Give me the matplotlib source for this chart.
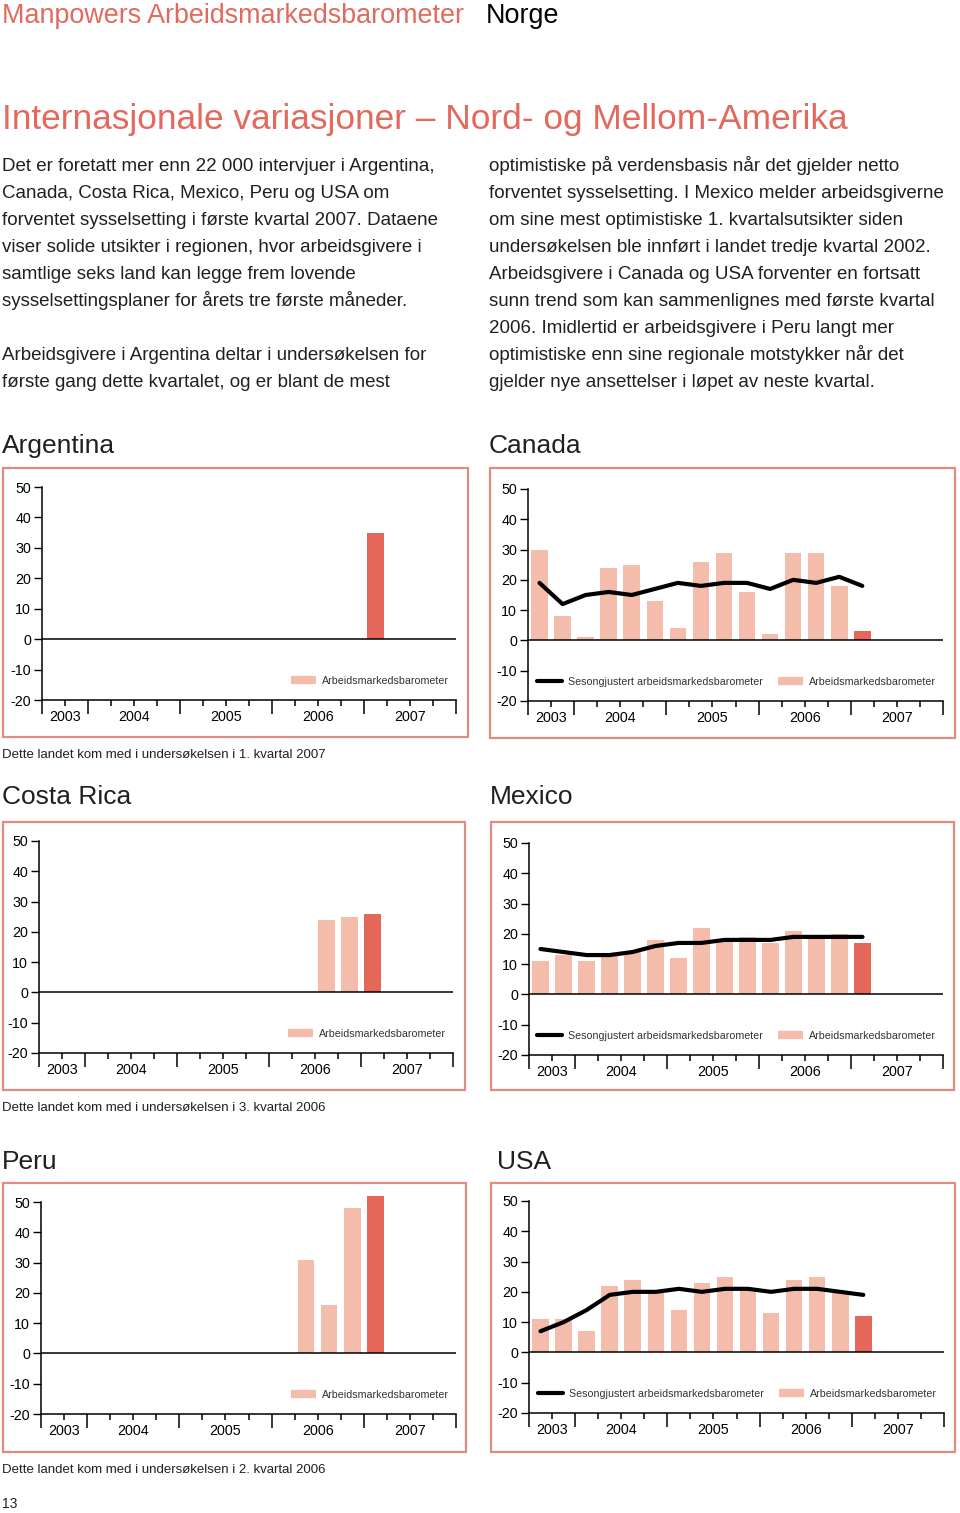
import numpy as np
import matplotlib.pyplot as plt
from matplotlib.patches import Rectangle
from matplotlib.lines import Line2D

plt.rcParams['font.family'] = ['Liberation Sans', 'DejaVu Sans']
plt.rcParams['axes.unicode_minus'] = False

W, H = 960, 1513
RED = '#e2695c'
LIGHT = '#f4bcab'
DARK = '#e4675a'
BOX = '#e48b80'
TXT = '#231f20'

# akse: 3. kv 2003 .. 4. kv 2007, data 3. kv 2003 .. 1. kv 2007
years = ['2003', '2004', '2005', '2006', '2007']
year_slots = [2, 4, 4, 4, 4]
n_obs = 15

argentina_bars = [np.nan] * 14 + [35]
costa_rica_bars = [np.nan] * 12 + [24, 25, 26]
peru_bars = [np.nan] * 11 + [31, 16, 48, 52]
canada_bars = [30, 8, 1, 24, 25, 13, 4, 26, 29, 16, 2, 29, 29, 18, 3]
canada_line = [19, 12, 15, 16, 15, 17, 19, 18, 19, 19, 17, 20, 19, 21, 18]
mexico_bars = [11, 13, 11, 13, 14, 18, 12, 22, 18, 19, 17, 21, 19, 20, 17]
mexico_line = [15, 14, 13, 13, 14, 16, 17, 17, 18, 18, 18, 19, 19, 19, 19]
usa_bars = [11, 11, 7, 22, 24, 20, 14, 23, 25, 21, 13, 24, 25, 20, 12]
usa_line = [7, 10, 14, 19, 20, 20, 21, 20, 21, 21, 20, 21, 21, 20, 19]

lbl_line = 'Sesongjustert arbeidsmarkedsbarometer'
lbl_bar = 'Arbeidsmarkedsbarometer'

left_text = [
    'Det er foretatt mer enn 22 000 intervjuer i Argentina,',
    'Canada, Costa Rica, Mexico, Peru og USA om',
    'forventet sysselsetting i første kvartal 2007. Dataene',
    'viser solide utsikter i regionen, hvor arbeidsgivere i',
    'samtlige seks land kan legge frem lovende',
    'sysselsettingsplaner for årets tre første måneder.',
    '',
    'Arbeidsgivere i Argentina deltar i undersøkelsen for',
    'første gang dette kvartalet, og er blant de mest',
]
right_text = [
    'optimistiske på verdensbasis når det gjelder netto',
    'forventet sysselsetting. I Mexico melder arbeidsgiverne',
    'om sine mest optimistiske 1. kvartalsutsikter siden',
    'undersøkelsen ble innført i landet tredje kvartal 2002.',
    'Arbeidsgivere i Canada og USA forventer en fortsatt',
    'sunn trend som kan sammenlignes med første kvartal',
    '2006. Imidlertid er arbeidsgivere i Peru langt mer',
    'optimistiske enn sine regionale motstykker når det',
    'gjelder nye ansettelser i løpet av neste kvartal.',
]


def fx(x):
    return x / W


def fy(y):
    return 1 - y / H


fig = plt.figure(figsize=(W / 100, H / 100), dpi=100)

fig.text(fx(2), fy(23), 'Manpowers Arbeidsmarkedsbarometer', color=RED,
         fontsize=19.4, va='baseline')
fig.text(fx(486), fy(23), 'Norge', color='black', fontsize=19.4, va='baseline')
fig.text(fx(2), fy(129), 'Internasjonale variasjoner \u2013 Nord- og Mellom-Amerika',
         color=RED, fontsize=25.4, va='baseline')

for i, s in enumerate(left_text):
    fig.text(fx(2), fy(171 + 27 * i), s, color=TXT, fontsize=13.5, va='baseline')
for i, s in enumerate(right_text):
    fig.text(fx(489), fy(171 + 27 * i), s, color=TXT, fontsize=13.5, va='baseline')


def panel(title, tpos, box, area, bars, line=None, note=None):
    fig.text(fx(tpos[0]), fy(tpos[1]), title, color=TXT, fontsize=19, va='baseline')
    bx0, by0, bx1, by1 = box
    fig.add_artist(Rectangle((fx(bx0), fy(by1)), (bx1 - bx0) / W, (by1 - by0) / H,
                             transform=fig.transFigure, fill=False, ec=BOX, lw=1.6))
    x0, x1, y50, ym20 = area
    ax = fig.add_axes([fx(x0), fy(ym20), (x1 - x0) / W, (ym20 - y50) / H])
    ax.set_xlim(0, 18)
    ax.set_ylim(-20, 50)
    ax.patch.set_alpha(0)

    pos = np.arange(n_obs) + 0.5
    vals = np.array(bars, dtype=float)
    ok = ~np.isnan(vals)
    cols = np.array([LIGHT] * (n_obs - 1) + [DARK])
    ax.bar(pos[ok], vals[ok], width=0.72, color=cols[ok], clip_on=False, zorder=2)
    ax.axhline(0, color='black', lw=1.1, zorder=3)
    if line is not None:
        ax.plot(pos, line, color='black', lw=3, solid_joinstyle='round',
                solid_capstyle='round', zorder=4)

    for s in ['top', 'right']:
        ax.spines[s].set_visible(False)
    for s in ['left', 'bottom']:
        ax.spines[s].set_linewidth(1.1)

    ax.set_yticks(range(-20, 51, 10))
    ax.tick_params(axis='y', direction='out', length=5.5, width=1, pad=2.5, labelsize=10.3)
    bounds = np.cumsum([0] + year_slots)
    ax.set_xticks(bounds)
    ax.set_xticklabels([])
    ax.set_xticks(np.arange(19), minor=True)
    ax.tick_params(axis='x', which='major', length=10, width=1.1)
    ax.tick_params(axis='x', which='minor', length=4, width=1.1)
    centers = (bounds[:-1] + bounds[1:]) / 2
    for c, yr in zip(centers, years):
        ax.text(c, -25.6, yr, ha='center', va='center', fontsize=10.3, clip_on=False)

    h_bar = Line2D([], [], color=LIGHT, lw=6, solid_capstyle='butt')
    if line is not None:
        h_line = Line2D([], [], color='black', lw=3, solid_capstyle='round')
        handles, labels = [h_line, h_bar], [lbl_line, lbl_bar]
    else:
        handles, labels = [h_bar], [lbl_bar]
    leg = ax.legend(handles, labels, loc='center right', bbox_to_anchor=(0.982, 0.09),
                    ncol=2, frameon=False, fontsize=7.7, handlelength=2.4,
                    handletextpad=0.5, columnspacing=1.4, borderaxespad=0, borderpad=0)
    for t in leg.get_texts():
        t.set_color('#333333')

    if note is not None:
        fig.text(fx(2), fy(by1 + 21), note, color=TXT, fontsize=9.5, va='baseline')


panel('Argentina', (2, 453), (3, 468, 468, 737), (42, 456, 487, 700), argentina_bars,
      note='Dette landet kom med i undersøkelsen i 1. kvartal 2007')
panel('Canada', (489, 453), (490, 468, 955, 738), (528, 943, 489, 701), canada_bars,
      line=canada_line)
panel('Costa Rica', (2, 804), (3, 822, 465, 1090), (39, 453, 841, 1053), costa_rica_bars,
      note='Dette landet kom med i undersøkelsen i 3. kvartal 2006')
panel('Mexico', (490, 804), (491, 822, 954, 1090), (529, 943, 843, 1055), mexico_bars,
      line=mexico_line)
panel('Peru', (2, 1169), (3, 1183, 466, 1452), (41, 456, 1202, 1414), peru_bars,
      note='Dette landet kom med i undersøkelsen i 2. kvartal 2006')
panel('USA', (497, 1169), (491, 1183, 955, 1452), (529, 944, 1201, 1413), usa_bars,
      line=usa_line)

fig.text(fx(2), fy(1508), '13', color=TXT, fontsize=10, va='baseline')

fig.savefig('out.png', dpi=100)
